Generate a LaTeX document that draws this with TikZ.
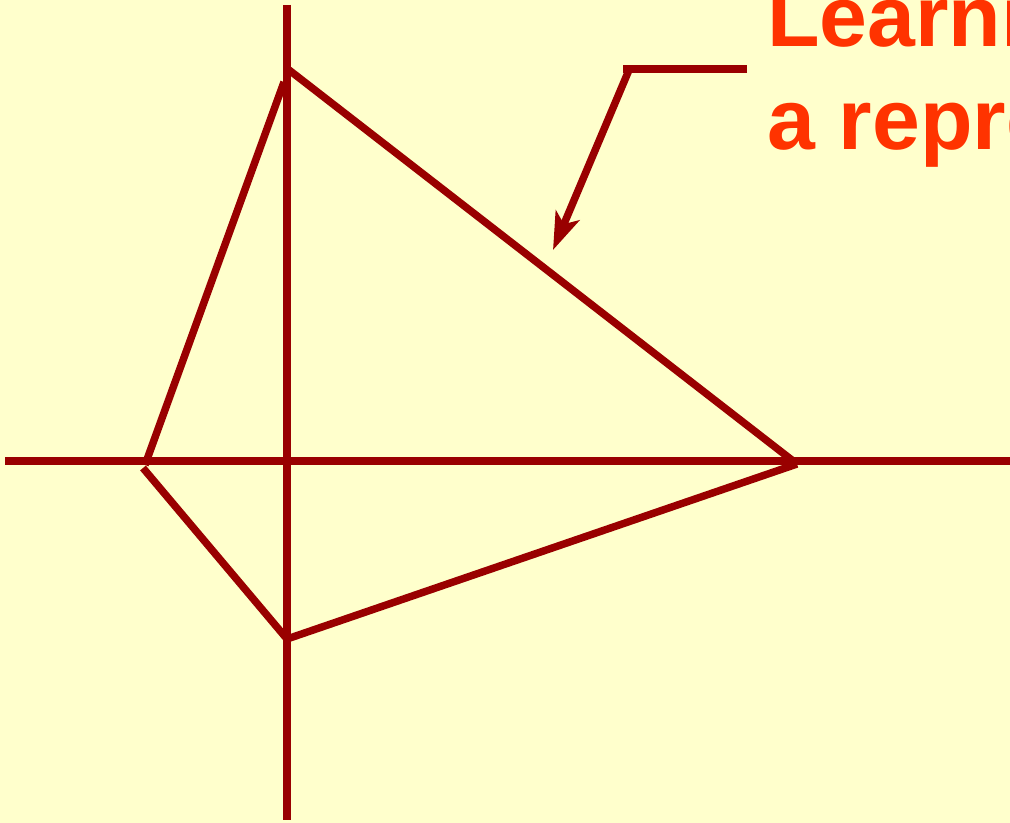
\documentclass[tikz,border=0pt]{standalone}
\usepackage{fontspec}
\setmainfont{Liberation Sans}
\usetikzlibrary{arrows.meta}
\definecolor{bg}{HTML}{FFFFCC}
\definecolor{ln}{HTML}{990000}
\definecolor{tx}{HTML}{FF3300}
\begin{document}
\begin{tikzpicture}[x=0.75pt,y=-0.75pt,
  ax/.style={draw=ln,line width=5.6pt},
  edge/.style={draw=ln,line width=5.6pt,line cap=butt},
  lbl/.style={text=tx,font=\fontsize{64.5}{76}\selectfont\bfseries,inner sep=0pt,anchor=base west}]
\fill[bg] (0,0) rectangle (1010,823);
\useasboundingbox (0,0) rectangle (1010,823);
\begin{scope}
\clip (0,0) rectangle (1010,823);
% axes
\coordinate (xl) at (5,461);
\coordinate (xr) at (1010,461);
\coordinate (yt) at (287,5);
\coordinate (yb) at (287,820);
\draw[ax] (xl) -- (xr);
\draw[ax] (yt) -- (yb);
% vertices
\coordinate (topR) at (289,70);
\coordinate (topL) at (284,82);
\coordinate (left) at (145,465);
\coordinate (leftB) at (143,468);
\coordinate (right) at (797,464);
\coordinate (bot) at (287,639);
\draw[edge] (topR) -- (right);
\draw[edge] (topL) -- (left);
\draw[edge] (leftB) -- (bot);
\draw[edge] (bot) -- (right);
% pointer arrow
\coordinate (pA) at (747,69);
\coordinate (pB) at (623,69);
\coordinate (pC) at (629,70);
\coordinate (pD) at (553,250);
\draw[edge] (pA) -- (pB);
\draw[edge,-{Stealth[length=28pt,width=19pt,inset=7pt]}] (pC) -- (pD);
% text
\node[lbl] (t1) at (767,47) {Learning};
\node[lbl] (t2) at (767,150) {a representation};
\end{scope}
\end{tikzpicture}
\end{document}
